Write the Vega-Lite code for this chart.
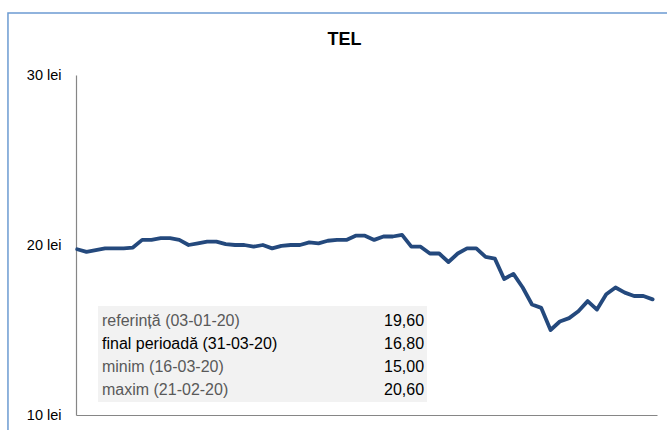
{
  "$schema": "https://vega.github.io/schema/vega-lite/v6.json",
  "width": 581,
  "height": 340,
  "autosize": "none",
  "padding": {"left": 76, "top": 75, "right": 10, "bottom": 15},
  "background": "white",
  "title": {"text": "TEL", "fontSize": 18, "fontWeight": "bold", "color": "#000000", "anchor": "middle", "offset": 0, "dy": 37, "dx": -22},
  "datasets": {
    "prices": [
      {"day": 0, "price": 19.75}, {"day": 1, "price": 19.6}, {"day": 2, "price": 19.7}, {"day": 3, "price": 19.8},
      {"day": 4, "price": 19.8}, {"day": 5, "price": 19.8}, {"day": 6, "price": 19.85}, {"day": 7, "price": 20.3},
      {"day": 8, "price": 20.3}, {"day": 9, "price": 20.4}, {"day": 10, "price": 20.4}, {"day": 11, "price": 20.3},
      {"day": 12, "price": 20.0}, {"day": 13, "price": 20.1}, {"day": 14, "price": 20.2}, {"day": 15, "price": 20.2},
      {"day": 16, "price": 20.05}, {"day": 17, "price": 20.0}, {"day": 18, "price": 20.0}, {"day": 19, "price": 19.9},
      {"day": 20, "price": 20.0}, {"day": 21, "price": 19.8}, {"day": 22, "price": 19.95}, {"day": 23, "price": 20.0},
      {"day": 24, "price": 20.0}, {"day": 25, "price": 20.15}, {"day": 26, "price": 20.1}, {"day": 27, "price": 20.25},
      {"day": 28, "price": 20.3}, {"day": 29, "price": 20.3}, {"day": 30, "price": 20.55}, {"day": 31, "price": 20.55},
      {"day": 32, "price": 20.3}, {"day": 33, "price": 20.5}, {"day": 34, "price": 20.5}, {"day": 35, "price": 20.6},
      {"day": 36, "price": 19.9}, {"day": 37, "price": 19.9}, {"day": 38, "price": 19.5}, {"day": 39, "price": 19.5},
      {"day": 40, "price": 19.0}, {"day": 41, "price": 19.5}, {"day": 42, "price": 19.8}, {"day": 43, "price": 19.8},
      {"day": 44, "price": 19.3}, {"day": 45, "price": 19.2}, {"day": 46, "price": 18.0}, {"day": 47, "price": 18.3},
      {"day": 48, "price": 17.5}, {"day": 49, "price": 16.5}, {"day": 50, "price": 16.3}, {"day": 51, "price": 15.0},
      {"day": 52, "price": 15.5}, {"day": 53, "price": 15.7}, {"day": 54, "price": 16.1}, {"day": 55, "price": 16.7},
      {"day": 56, "price": 16.2}, {"day": 57, "price": 17.1}, {"day": 58, "price": 17.5}, {"day": 59, "price": 17.2},
      {"day": 60, "price": 17.0}, {"day": 61, "price": 17.0}, {"day": 62, "price": 16.8}
    ],
    "table": [
      {"row": 1, "label": "referință (03-01-20)", "value": "19,60"},
      {"row": 2, "label": "final perioadă (31-03-20)", "value": "16,80"},
      {"row": 3, "label": "minim (16-03-20)", "value": "15,00"},
      {"row": 4, "label": "maxim (21-02-20)", "value": "20,60"}
    ]
  },
  "layer": [
    {
      "layer": [
        {
          "data": {"values": [{}]},
          "mark": {"type": "rect", "fill": "transparent", "stroke": "#6C9BD2", "strokeWidth": 1.5, "clip": false},
          "encoding": {
            "x": {"datum": -7.46, "type": "quantitative"},
            "x2": {"datum": 70},
            "y": {"datum": 33.65, "type": "quantitative", "axis": {"values": [10, 20, 30], "labelExpr": "datum.value + ' lei'"}},
            "y2": {"datum": 5}
          }
        },
        {
          "data": {"name": "prices"},
          "mark": {"type": "line", "color": "#24497D", "strokeWidth": 3.8, "strokeJoin": "round", "strokeCap": "round"},
          "encoding": {
            "x": {"field": "day", "type": "quantitative", "title": null, "scale": {"domain": [-0.13, 62.47], "nice": false, "zero": false}},
            "y": {"field": "price", "type": "quantitative", "title": null, "scale": {"domain": [10, 30], "nice": false, "zero": false}, "axis": {"values": [10, 20, 30], "labelExpr": "datum.value + ' lei'"}}
          }
        }
      ]
    },
    {
      "layer": [
        {
          "data": {"values": [{}]},
          "mark": {"type": "rect", "fill": "#F2F2F2"},
          "encoding": {
            "x": {"datum": 2.24, "type": "quantitative"},
            "x2": {"datum": 37.69},
            "y": {"datum": 0.348, "type": "quantitative", "axis": null, "scale": {"domain": [-9.696, 5.087], "reverse": true, "nice": false, "zero": false}},
            "y2": {"datum": 4.521}
          }
        },
        {
          "data": {"name": "table"},
          "mark": {"type": "text", "align": "left", "baseline": "middle", "fontSize": 16},
          "encoding": {
            "x": {"datum": 2.67, "type": "quantitative"},
            "y": {"field": "row", "type": "quantitative", "axis": null, "scale": {"domain": [-9.696, 5.087], "reverse": true, "nice": false, "zero": false}},
            "text": {"field": "label"},
            "color": {"condition": {"test": "datum.row === 2", "value": "#000000"}, "value": "#595959"}
          }
        },
        {
          "data": {"name": "table"},
          "mark": {"type": "text", "align": "right", "baseline": "middle", "fontSize": 16, "color": "#000000"},
          "encoding": {
            "x": {"datum": 37.37, "type": "quantitative"},
            "y": {"field": "row", "type": "quantitative", "axis": null, "scale": {"domain": [-9.696, 5.087], "reverse": true, "nice": false, "zero": false}},
            "text": {"field": "value"}
          }
        }
      ]
    }
  ],
  "resolve": {"scale": {"y": "independent"}},
  "config": {
    "font": "Liberation Sans",
    "view": {"stroke": null},
    "axisX": {"labels": false, "ticks": false, "grid": false, "domainColor": "#868686", "domainWidth": 1.2},
    "axisY": {"ticks": false, "tickSize": 0, "grid": false, "domainColor": "#868686", "domainWidth": 1.2, "labelFontSize": 14.5, "labelColor": "#000000", "labelPadding": 15, "labelFont": "Liberation Sans"}
  }
}
